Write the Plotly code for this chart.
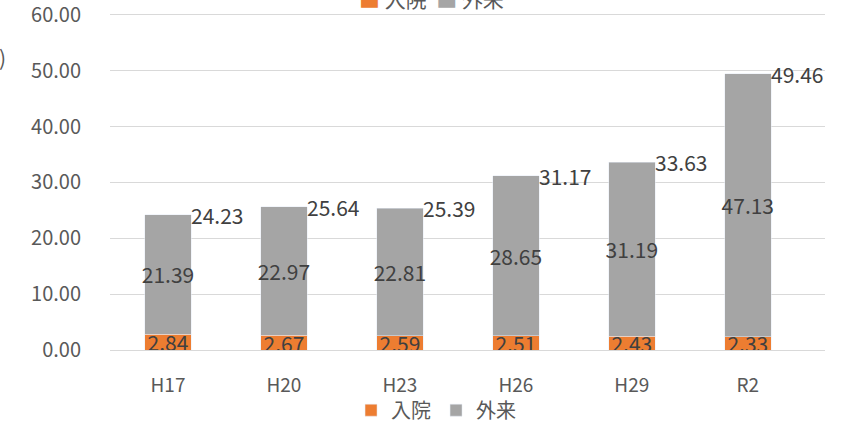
import plotly.graph_objects as go

categories = ["H17", "H20", "H23", "H26", "H29", "R2"]
inpatient = [2.84, 2.67, 2.59, 2.51, 2.43, 2.33]
outpatient = [21.39, 22.97, 22.81, 28.65, 31.19, 47.13]
totals = [24.23, 25.64, 25.39, 31.17, 33.63, 49.46]
y_ticks = [0, 10, 20, 30, 40, 50, 60]

ORANGE = "#ED7D31"
GRAY = "#A5A5A5"
TXT = "#404040"
AX = "#595959"
FONT = "Noto Sans CJK JP"
FS = 21

fig = go.Figure()
fig.add_bar(x=categories, y=inpatient, name="入院", marker_color=ORANGE,
            text=[f"{v:.2f}" for v in inpatient], textposition="inside", textangle=0,
            insidetextanchor="middle", constraintext="none",
            textfont=dict(color=TXT, size=FS, family=FONT))
fig.add_bar(x=categories, y=outpatient, name="外来", marker_color=GRAY,
            text=[f"{v:.2f}" for v in outpatient], textposition="inside", textangle=0,
            insidetextanchor="middle", constraintext="none",
            textfont=dict(color=TXT, size=FS, family=FONT))

for i, t in enumerate(totals):
    fig.add_annotation(x=i + 0.2, y=t, xref="x", yref="y", text=f"{t:.2f}",
                       showarrow=False, xanchor="left", yanchor="middle", xshift=-2,
                       font=dict(size=FS, color=TXT, family=FONT))

# clipped legend copy at the top edge
fig.add_annotation(xref="paper", yref="paper", x=0.449, y=1.041,
                   text=f"<span style='color:{ORANGE}'>■</span> 入院  <span style='color:{GRAY}'>■</span> 外来",
                   showarrow=False, xanchor="center", yanchor="middle",
                   font=dict(size=FS, color=AX, family=FONT))
# clipped axis title at the left edge
fig.add_annotation(xref="paper", yref="paper", x=-0.142, y=0.867,
                   text="(十億円)", showarrow=False, xanchor="right", yanchor="middle",
                   font=dict(size=FS, color=AX, family=FONT))

fig.update_layout(
    barmode="stack", bargap=0.6,
    width=846, height=422,
    margin=dict(l=110, r=21, t=12, b=72, autoexpand=False),
    plot_bgcolor="white", paper_bgcolor="white",
    font=dict(family=FONT, size=FS, color=AX),
    showlegend=True,
    legend=dict(orientation="h", x=0.456, xanchor="center", yref="container",
                y=0.028, yanchor="middle", bgcolor="rgba(0,0,0,0)",
                font=dict(size=FS - 1, color=AX, family=FONT), traceorder="normal"),
    uniformtext=dict(mode=False),
)
fig.update_yaxes(range=[0, 60.5], tickvals=y_ticks, ticktext=[f"{v:.2f}" for v in y_ticks],
                 showgrid=True, gridcolor="#D9D9D9", gridwidth=1, zeroline=False,
                 showline=False, ticks="", ticklen=0, ticklabelstandoff=28, automargin=False,
                 ticklabeloverflow="allow",
                 tickfont=dict(size=FS - 1, color=AX, family=FONT))
fig.update_xaxes(showline=True, linecolor="#D9D9D9", linewidth=1, ticks="",
                 ticklabelstandoff=18, automargin=False, ticklabeloverflow="allow",
                 tickfont=dict(size=FS - 2, color=AX, family=FONT))

fig.write_html("out.html")
